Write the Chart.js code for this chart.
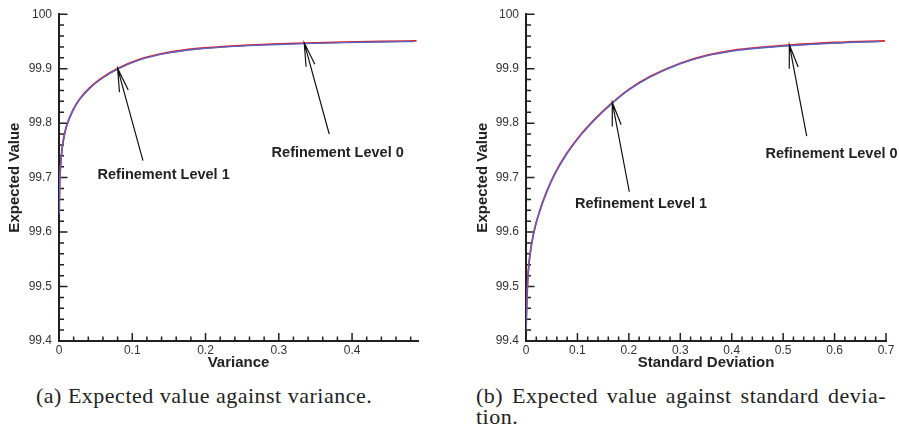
<!DOCTYPE html>
<html>
<head>
<meta charset="utf-8">
<script src="https://cdn.jsdelivr.net/npm/chart.js@4/dist/chart.umd.min.js"></script>
<style>
  body { margin: 0; background: #fff; width: 899px; height: 430px; overflow: hidden; position: relative; }
  canvas { position: absolute; top: 0; }
  #left { left: 0; }
  #right { left: 450px; }
  .cap { position: absolute; font-family: 'Liberation Serif', 'Times New Roman', serif; font-size: 22px;
         letter-spacing: 0.5px; color: #222; white-space: nowrap; line-height: 21px; }
</style>
</head>
<body>
<canvas id="left" width="450" height="373"></canvas>
<canvas id="right" width="449" height="373"></canvas>
<div class="cap" style="left:36px; top:385px">(a) Expected value against variance.</div>
<div class="cap" style="left:476px; top:385px; width:410px">
  <div style="text-align:justify; text-align-last:justify">(b) Expected value against standard devia-</div>
  <div>tion.</div>
</div>
<script>
// (a) expected value vs variance
var varX = [0.0003, 0.0008, 0.002, 0.0044, 0.0075, 0.011, 0.019, 0.028, 0.042, 0.058,
  0.08, 0.11, 0.146, 0.19, 0.24, 0.29, 0.335, 0.39, 0.44, 0.488]
var varRed = [99.634, 99.682, 99.719, 99.755, 99.780, 99.798, 99.824, 99.844, 99.865, 99.8824,
  99.900, 99.917, 99.929, 99.937, 99.942, 99.945, 99.947, 99.9488, 99.950, 99.9509]
var varBlueX = [0.0003, 0.0008, 0.002, 0.0044, 0.0075, 0.011, 0.019, 0.028, 0.042, 0.058,
  0.08, 0.11, 0.146, 0.19, 0.24, 0.29, 0.335, 0.39, 0.44, 0.484]
var varBlue = [99.633, 99.681, 99.718, 99.754, 99.779, 99.797, 99.823, 99.843, 99.864, 99.8814,
  99.899, 99.916, 99.928, 99.936, 99.941, 99.944, 99.946, 99.9478, 99.949, 99.9499]

// (b) expected value vs standard deviation
var sdX = [0, 0.0013, 0.0033, 0.0064, 0.011, 0.0175, 0.027, 0.040, 0.056, 0.079, 0.105,
  0.131, 0.1667, 0.2, 0.241, 0.3, 0.351, 0.402, 0.455, 0.512, 0.601, 0.698]
var sdRed = [99.42, 99.462, 99.511, 99.548, 99.579, 99.609, 99.640, 99.6738, 99.7074, 99.7442, 99.7772,
  99.8045, 99.8366, 99.862, 99.8855, 99.910, 99.9245, 99.9335, 99.939, 99.9432, 99.948, 99.951]
var sdBlueX = [0, 0.0013, 0.0033, 0.0064, 0.011, 0.0175, 0.027, 0.040, 0.056, 0.079, 0.105,
  0.131, 0.1667, 0.2, 0.241, 0.3, 0.351, 0.402, 0.455, 0.512, 0.601, 0.688]
var sdBlue = [99.42, 99.461, 99.510, 99.547, 99.578, 99.608, 99.639, 99.6728, 99.7064, 99.7432, 99.7762,
  99.8035, 99.8356, 99.861, 99.8845, 99.909, 99.9235, 99.9325, 99.938, 99.9422, 99.947, 99.950]

// annotations: label text, label position, arrow tip and tail (data units)
var noteText = ['Refinement Level 1', 'Refinement Level 0']
var varNoteAt = [[0.1428, 99.7055], [0.3804, 99.746]]
var varTip = [[0.080, 99.9005], [0.3347, 99.9475]]
var varTail = [[0.1146, 99.731], [0.3688, 99.780]]
var sdNoteAt = [[0.2236, 99.651], [0.594, 99.744]]
var sdTip = [[0.1678, 99.838], [0.512, 99.944]]
var sdTail = [[0.2009, 99.674], [0.5458, 99.776]]

var sans = '"Liberation Sans", Arial, Helvetica, sans-serif'
var ink = '#231f20'

function points (xs, ys) {
  return xs.map(function (x, i) { return { x: x, y: ys[i] } })
}

// inward major / minor tick marks along the two axes
var axisTicks = {
  id: 'axisTicks',
  beforeDatasetsDraw: function (chart) {
    var ctx = chart.ctx
    var sx = chart.scales.x
    var sy = chart.scales.y
    var a = chart.chartArea
    ctx.save()
    ctx.strokeStyle = ink
    ctx.lineWidth = 1.5
    ctx.beginPath()
    for (var i = 0; i * 0.02 <= sx.max + 1e-9; i++) {
      var px = sx.getPixelForValue(i * 0.02)
      var len = i % 5 === 0 ? 8 : 4.5
      ctx.moveTo(px, a.bottom)
      ctx.lineTo(px, a.bottom - len)
    }
    for (var j = 0; sy.min + j * 0.02 <= sy.max + 1e-9; j++) {
      var py = sy.getPixelForValue(sy.min + j * 0.02)
      var l = j % 5 === 0 ? 8.5 : 5
      ctx.moveTo(a.left, py)
      ctx.lineTo(a.left + l, py)
    }
    ctx.stroke()
    ctx.restore()
  }
}

// arrows + "Refinement Level" labels
var notes = {
  id: 'notes',
  afterDatasetsDraw: function (chart, args, opts) {
    var ctx = chart.ctx
    var sx = chart.scales.x
    var sy = chart.scales.y
    ctx.save()
    ctx.strokeStyle = '#111'
    ctx.lineWidth = 1.2
    for (var i = 0; i < opts.tips.length; i++) {
      var tx = sx.getPixelForValue(opts.tips[i][0])
      var ty = sy.getPixelForValue(opts.tips[i][1])
      var bx = sx.getPixelForValue(opts.tails[i][0])
      var by = sy.getPixelForValue(opts.tails[i][1])
      var ang = Math.atan2(by - ty, bx - tx)
      ctx.beginPath()
      ctx.moveTo(bx, by)
      ctx.lineTo(tx, ty)
      ctx.moveTo(tx + 24 * Math.cos(ang - 0.19), ty + 24 * Math.sin(ang - 0.19))
      ctx.lineTo(tx, ty)
      ctx.lineTo(tx + 24 * Math.cos(ang + 0.19), ty + 24 * Math.sin(ang + 0.19))
      ctx.stroke()
    }
    ctx.fillStyle = '#222'
    ctx.font = 'bold 14.5px ' + sans
    ctx.textAlign = 'center'
    ctx.textBaseline = 'middle'
    for (var k = 0; k < opts.at.length; k++) {
      ctx.fillText(opts.text[k], sx.getPixelForValue(opts.at[k][0]), sy.getPixelForValue(opts.at[k][1]))
    }
    ctx.restore()
  }
}

function makeChart (id, cfg) {
  return new Chart(document.getElementById(id), {
    type: 'line',
    data: {
      datasets: [
        { data: points(cfg.blueX, cfg.blue), borderColor: '#5b63c4', borderWidth: 1.4 },
        { data: points(cfg.redX, cfg.red), borderColor: '#d6232a', borderWidth: 1.8 }
      ]
    },
    options: {
      responsive: false,
      animation: false,
      layout: { padding: { top: 13, right: cfg.padRight, left: 0, bottom: 0 } },
      elements: {
        point: { radius: 0 },
        line: { cubicInterpolationMode: 'monotone', fill: false }
      },
      plugins: {
        legend: { display: false },
        tooltip: { enabled: false },
        notes: { text: noteText, at: cfg.noteAt, tips: cfg.tips, tails: cfg.tails }
      },
      scales: {
        x: {
          type: 'linear',
          min: 0,
          max: cfg.xMax,
          afterFit: function (s) { s.height = 32 },
          grid: { display: false, drawTicks: false },
          border: { display: true, color: ink, width: 2 },
          ticks: {
            stepSize: 0.1,
            includeBounds: false,
            padding: 2,
            color: '#333',
            font: { family: sans, size: 12 },
            maxRotation: 0,
            callback: function (v) { return String(+v.toFixed(2)) }
          },
          title: {
            display: true,
            text: cfg.xTitle,
            color: '#222',
            padding: { top: 0, bottom: 1 },
            font: { family: sans, size: 15, weight: 'bold' }
          }
        },
        y: {
          min: 99.4,
          max: 100,
          afterFit: function (s) { s.width = cfg.yWidth },
          grid: { display: false, drawTicks: false },
          border: { display: true, color: ink, width: 2 },
          ticks: {
            stepSize: 0.1,
            padding: 7,
            color: '#333',
            font: { family: sans, size: 12 },
            callback: function (v) { return String(+v.toFixed(1)) }
          },
          title: {
            display: true,
            text: 'Expected Value',
            color: '#222',
            padding: { top: cfg.yTitlePad, bottom: 0 },
            font: { family: sans, size: 15, weight: 'bold' }
          }
        }
      }
    },
    plugins: [axisTicks, notes]
  })
}

makeChart('left', {
  redX: varX, red: varRed, blueX: varBlueX, blue: varBlue,
  xMax: 0.49, xTitle: 'Variance', yWidth: 59, yTitlePad: 6, padRight: 32,
  noteAt: varNoteAt, tips: varTip, tails: varTail
})

makeChart('right', {
  redX: sdX, red: sdRed, blueX: sdBlueX, blue: sdBlue,
  xMax: 0.7, xTitle: 'Standard Deviation', yWidth: 76, yTitlePad: 24, padRight: 13,
  noteAt: sdNoteAt, tips: sdTip, tails: sdTail
})
</script>
</body>
</html>
